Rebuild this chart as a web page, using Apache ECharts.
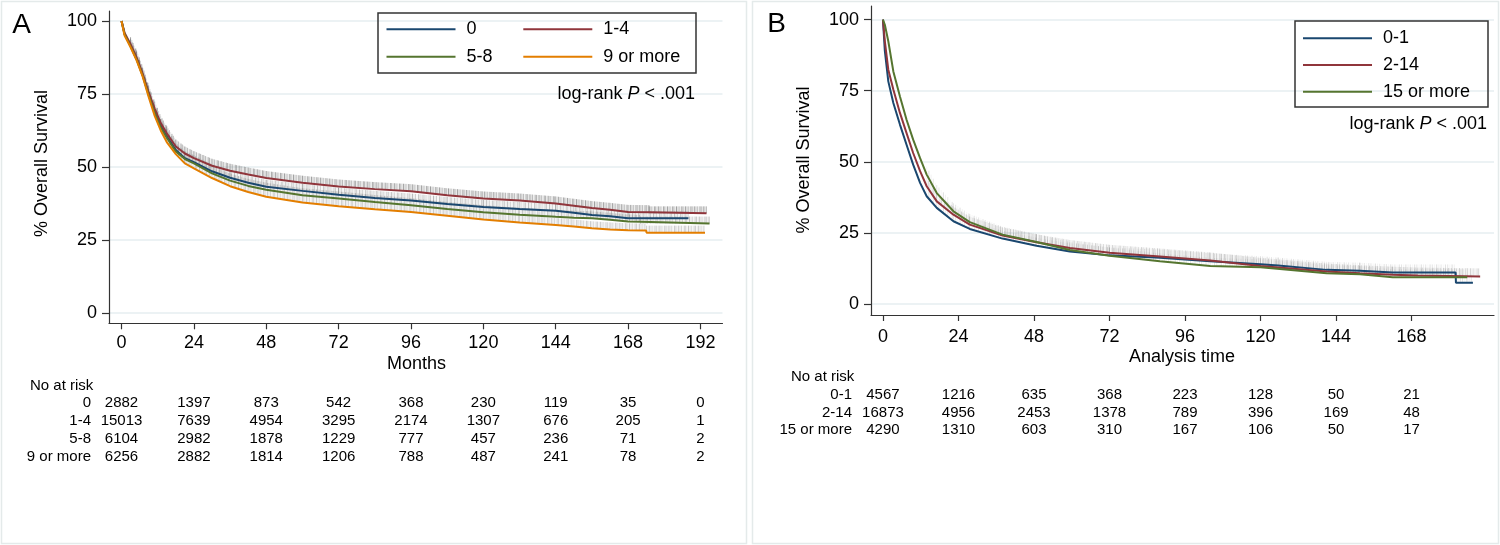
<!DOCTYPE html>
<html><head><meta charset="utf-8">
<script src="https://cdn.jsdelivr.net/npm/echarts@6/dist/echarts.min.js"></script>
<style>html,body{margin:0;padding:0;background:#fff}#c{width:1500px;height:545px}</style>
</head><body><div id="c"></div><script>
// ---------- Panel A data (months, % overall survival) ----------
const namesA = ['0', '1-4', '5-8', '9 or more'];
const timeA_0  = [0,1,3,5,7,9,11,13,15,18,21,24,30,36,42,48,60,72,84,96,108,120,132,144,150,156,162,168,188];
const survA_0  = [100,95.5,91.5,87,81.5,75,69,64,60.5,55.8,53,51.6,48.5,46.3,44.6,43.2,41.8,40.5,39.4,38.5,37.3,36.3,35.6,35.0,34.3,33.5,33.1,32.4,32.4];
const timeA_14 = [0,1,3,5,7,9,11,13,15,18,21,24,30,36,42,48,60,72,84,96,108,120,132,144,150,156,162,168,174.9,175,194];
const survA_14 = [100,96,92,87.5,82,75.5,70,65,61.5,57,54.6,53,50.4,48.7,47.4,46.2,44.6,43.3,42.4,41.7,40.3,39.2,38.5,37.5,36.7,35.9,35.3,34.6,34.5,34.1,34.1];
const timeA_58 = [0,1,3,5,7,9,11,13,15,18,21,24,30,36,42,48,60,72,84,96,108,120,132,144,150,156,162,168,172,172.1,195];
const survA_58 = [100,95.5,91.3,86.8,81.3,74.6,68.5,63.5,60,55.3,52.7,51.2,47.8,45.3,43.5,42.2,40.3,39.2,38,36.9,35.6,34.5,33.6,32.9,32.6,32.4,31.9,31.3,31.2,30.6,30.6];
const timeA_9  = [0,1,3,5,7,9,11,13,15,18,21,24,30,36,42,48,60,72,84,96,108,120,132,144,150,156,162,168,174,174.1,193.5];
const survA_9  = [100,95,91,86.5,81,74,67.5,62.5,58.5,54.4,51.2,49.5,46.2,43.4,41.4,39.8,37.8,36.5,35.5,34.6,33.3,32,31,30.1,29.6,29.0,28.6,28.3,28.2,27.5,27.5];
const xTicksA = [0,24,48,72,96,120,144,168,192];
const yTicks  = [0,25,50,75,100];
const riskA_0  = [2882,1397,873,542,368,230,119,35,0];
const riskA_14 = [15013,7639,4954,3295,2174,1307,676,205,1];
const riskA_58 = [6104,2982,1878,1229,777,457,236,71,2];
const riskA_9  = [6256,2882,1814,1206,788,487,241,78,2];

// ---------- Panel B data ----------
const namesB = ['0-1', '2-14', '15 or more'];
const timeB_01  = [0,0.6,1.7,3.3,5.4,7.5,9.6,11.8,13.9,17.1,22.4,27.6,38,48.8,59.4,72,88,104,120,125.6,141,151.6,162,182,182.1,187.5];
const survB_01  = [100,89,78.3,70.7,63.1,56,49,42.6,37.9,33.8,29.1,26.4,23,20.5,18.5,17.1,16.3,15,14,13.5,12,11.7,11.1,11.1,7.5,7.5];
const timeB_214 = [0,0.6,1.7,3.3,5.4,7.5,9.6,11.8,13.9,17.1,22.4,27.6,38,48.8,59.4,72,88,104,120,141,151.6,162,170,189.8];
const survB_214 = [100,92.4,82.4,75.4,67.2,60.1,53.1,46.7,41.4,36.1,31.4,27.9,24.1,21.7,19.7,18,16.7,15.3,13.4,11.4,10.8,10.3,10,9.7];
const timeB_15  = [0,0.3,0.6,1.7,3.3,5.4,7.5,9.6,11.8,13.9,17.1,22.4,27.6,38,48.8,59.4,72,88,104,120,141,151.6,162,185.7];
const survB_15  = [100,100,98.2,92.4,81.8,73,64.8,57.8,51.3,45.5,39,32.6,28.8,24.4,21.8,19,17,15,13.4,12.9,10.8,10.5,9.4,9.4];
const xTicksB = [0,24,48,72,96,120,144,168];
const riskB_01  = [4567,1216,635,368,223,128,50,21];
const riskB_214 = [16873,4956,2453,1378,789,396,169,48];
const riskB_15  = [4290,1310,603,310,167,106,50,17];

// ---------- styling ----------
const FONT = '"Liberation Sans", Arial, Helvetica, sans-serif';
const C_NAVY = '#1a476f', C_MAROON = '#90353b', C_GREEN = '#55752f', C_ORANGE = '#e37e00';
const OPS = [0.55, 0.2, 0.7, 0.3, 0.5, 0.15, 0.6];

function pairs(t, v) { return t.map((x, i) => [x, v[i]]); }

function censorBand(data, ai, color, h, step, from, opScale) {
  return {
    type: 'custom', xAxisIndex: ai, yAxisIndex: ai, silent: true, z: 2, clip: true,
    data: data, encode: { x: 0, y: 1 },
    renderItem: function (params, api) {
      const i = params.dataIndex;
      if (i >= data.length - 1 || data[i][0] < from) return null;
      const p0 = api.coord(data[i]), p1 = api.coord(data[i + 1]);
      if (p1[0] - p0[0] < 0.5) return null;
      const ch = [];
      let k = Math.round(p0[0] / step);
      for (let x = p0[0]; x < p1[0]; x += step, k++) {
        const t = (x - p0[0]) / (p1[0] - p0[0]);
        const y = p0[1] + t * (p1[1] - p0[1]);
        ch.push({ type: 'line', shape: { x1: x, y1: y, x2: x, y2: y - h },
          style: { stroke: color, lineWidth: 1, opacity: OPS[k % OPS.length] * opScale } });
      }
      return { type: 'group', children: ch };
    }
  };
}

function curve(name, data, ai, color) {
  return { type: 'line', name: name, xAxisIndex: ai, yAxisIndex: ai, data: data,
    showSymbol: false, symbol: 'none', z: 3, silent: true,
    lineStyle: { width: 2, color: color }, itemStyle: { color: color } };
}

function xAxisCfg(gi, min, max, ticks, margin) {
  return { gridIndex: gi, type: 'value', min: min, max: max,
    axisLine: { show: true, onZero: false, lineStyle: { color: '#333', width: 1.2 } },
    axisTick: { show: true, customValues: ticks, length: 6, lineStyle: { color: '#333', width: 1.2 } },
    axisLabel: { customValues: ticks, fontSize: 18, color: '#000', fontFamily: FONT, margin: margin },
    splitLine: { show: false } };
}
function yAxisCfg(gi, min, max) {
  return { gridIndex: gi, type: 'value', min: min, max: max,
    axisLine: { show: true, onZero: false, lineStyle: { color: '#333', width: 1.2 } },
    axisTick: { show: true, customValues: yTicks, length: 7, lineStyle: { color: '#333', width: 1.2 } },
    axisLabel: { customValues: yTicks, fontSize: 18, color: '#000', fontFamily: FONT, margin: 12 },
    splitLine: { show: true, lineStyle: { color: '#e6eef1', width: 1.5 } } };
}
function leg(name, left, cy) {
  return { data: [name], left: left, top: cy - 10, orient: 'horizontal', padding: 0,
    itemWidth: 69, itemHeight: 2, icon: 'rect', itemGap: 0, selectedMode: false,
    textStyle: { fontSize: 18, fontFamily: FONT, color: '#000', lineHeight: 20, padding: [0, 0, 0, 6] } };
}

const dA0 = pairs(timeA_0, survA_0), dA14 = pairs(timeA_14, survA_14),
      dA58 = pairs(timeA_58, survA_58), dA9 = pairs(timeA_9, survA_9);
const dB01 = pairs(timeB_01, survB_01), dB214 = pairs(timeB_214, survB_214), dB15 = pairs(timeB_15, survB_15);

const chart = echarts.init(document.getElementById('c'));
chart.setOption({
  animation: false,
  backgroundColor: '#fff',
  grid: [
    { left: 109, width: 613.5, top: 11, height: 312.3 },
    { left: 871, width: 623, top: 6, height: 309 }
  ],
  xAxis: [ xAxisCfg(0, -4.15, 199.3, xTicksA, 11), xAxisCfg(1, -3.8, 194.2, xTicksB, 13) ],
  yAxis: [ yAxisCfg(0, -3.55, 103.4), yAxisCfg(1, -3.87, 104.8) ],
  legend: [
    leg(namesA[0], 386.5, 29.3), leg(namesA[1], 523.3, 29.3),
    leg(namesA[2], 386.5, 56.7), leg(namesA[3], 523.3, 56.7),
    leg(namesB[0], 1303, 38.3), leg(namesB[1], 1303, 65), leg(namesB[2], 1303, 91.7)
  ],
  series: [
    censorBand(dA14, 0, '#666', 7, 1.3, 3, 0.9),
    censorBand(dA0, 0, '#777', 7, 1.5, 3, 0.7),
    censorBand(dA58, 0, '#777', 7, 1.4, 3, 0.7),
    censorBand(dA9, 0, '#888', 7, 1.4, 3, 0.7),
    censorBand(dB214, 1, '#888', 8, 1.6, 12, 0.6),
    censorBand(dB01, 1, '#999', 8, 2.2, 12, 0.45),
    censorBand(dB15, 1, '#999', 8, 2.2, 12, 0.45),
    curve(namesA[0], dA0, 0, C_NAVY),
    curve(namesA[1], dA14, 0, C_MAROON),
    curve(namesA[2], dA58, 0, C_GREEN),
    curve(namesA[3], dA9, 0, C_ORANGE),
    curve(namesB[0], dB01, 1, C_NAVY),
    curve(namesB[1], dB214, 1, C_MAROON),
    curve(namesB[2], dB15, 1, C_GREEN)
  ]
});

// ---------- annotations, legend boxes, risk tables ----------
function txt(s, x, y, size, align, extra) {
  return Object.assign({ type: 'text', x: x, y: y, silent: true, z: 10,
    style: { text: s, fontSize: size, fontFamily: FONT, fill: '#000', align: align || 'center', verticalAlign: 'middle' } }, extra || {});
}
const g = [];
g.push({ type: 'rect', shape: { x: 1.5, y: 1.5, width: 745, height: 542 }, style: { fill: 'none', stroke: '#e4eaea', lineWidth: 1.5 }, silent: true, z: 0 });
g.push({ type: 'rect', shape: { x: 752.5, y: 1.5, width: 746, height: 542 }, style: { fill: 'none', stroke: '#e4eaea', lineWidth: 1.5 }, silent: true, z: 0 });
g.push({ type: 'rect', shape: { x: 378, y: 13, width: 318, height: 60 }, style: { fill: 'none', stroke: '#333', lineWidth: 1.5 }, silent: true, z: 9 });
g.push({ type: 'rect', shape: { x: 1295, y: 21, width: 193, height: 86 }, style: { fill: 'none', stroke: '#333', lineWidth: 1.5 }, silent: true, z: 9 });
g.push(txt('A', 21.5, 25, 28, 'center'));
g.push(txt('B', 776.5, 24, 28, 'center'));
g.push(txt('% Overall Survival', 42, 163.5, 18, 'center', { rotation: Math.PI / 2 }));
g.push(txt('% Overall Survival', 804, 160, 18, 'center', { rotation: Math.PI / 2 }));
g.push(txt('Months', 416.6, 364, 18, 'center'));
g.push(txt('Analysis time', 1182, 357, 18, 'center'));
const lr = { text: '{n|log-rank }{i|P}{n| < .001}', rich: { n: { fontSize: 18, fontFamily: FONT, fill: '#000' }, i: { fontSize: 18, fontFamily: FONT, fontStyle: 'italic', fill: '#000' } } };
g.push({ type: 'text', x: 695, y: 94, z: 10, silent: true, style: Object.assign({ align: 'right', verticalAlign: 'middle' }, lr) });
g.push({ type: 'text', x: 1487, y: 124, z: 10, silent: true, style: Object.assign({ align: 'right', verticalAlign: 'middle' }, lr) });

function riskTable(ai, ticks, names, rows, labelRight, headLeft, headY, y0, dy) {
  g.push(txt('No at risk', headLeft, headY, 15, 'left'));
  rows.forEach((row, r) => {
    const y = y0 + r * dy;
    g.push(txt(names[r], labelRight, y, 15, 'right'));
    row.forEach((v, c) => {
      const px = chart.convertToPixel({ xAxisIndex: ai }, ticks[c]);
      g.push(txt(String(v), px, y, 15, 'center'));
    });
  });
}
riskTable(0, xTicksA, namesA, [riskA_0, riskA_14, riskA_58, riskA_9], 91, 30, 386, 403.3, 17.8);
riskTable(1, xTicksB, namesB, [riskB_01, riskB_214, riskB_15], 852, 791, 377.3, 395, 17.5);
chart.setOption({ graphic: g });
</script></body></html>
